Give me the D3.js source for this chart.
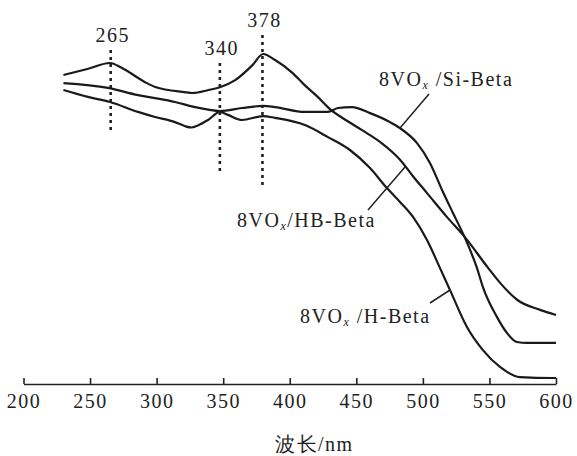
<!DOCTYPE html>
<html>
<head>
<meta charset="utf-8">
<script src="https://cdn.jsdelivr.net/npm/d3@7/dist/d3.min.js"></script>
<style>
  body { margin: 0; background: #fff; }
</style>
</head>
<body>
<svg id="chart" width="577" height="456"></svg>
<script>
// ---- data (wavelength in nm, absorbance in arbitrary units) ----
const xTicks = [200, 250, 300, 350, 400, 450, 500, 550, 600];

const hbBetaWave = [230, 248, 265, 274, 291, 299, 321, 327, 339, 348, 359, 372, 380, 389, 402, 411, 421, 430, 442, 454, 469, 483, 493, 503, 518, 532, 549, 558, 571, 588, 600];
const hbBetaAbs  = [103.0, 105.0, 107.0, 105.3, 100.7, 99.0, 97.3, 97.0, 98.0, 99.0, 101.3, 106.3, 110.0, 108.0, 103.7, 99.7, 95.7, 91.7, 88.0, 84.7, 80.3, 74.7, 69.0, 63.7, 55.7, 48.7, 38.7, 33.7, 28.0, 24.7, 23.0];

const siBetaWave = [230, 263.5, 286, 298.8, 313.8, 328.8, 347.6, 364.1, 379.9, 388.9, 411.4, 428.7, 436.2, 446.7, 460.3, 475.3, 482.8, 495.6, 505.3, 515.1, 522.6, 531.6, 540.6, 545.1, 555.7, 563.2, 570.7, 578.2, 600];
const siBetaAbs  = [100.3, 98.7, 96.3, 95.3, 94.0, 92.3, 91.0, 92.0, 92.7, 92.3, 90.7, 90.7, 92.0, 92.3, 90.3, 87.3, 85.3, 80.3, 73.7, 64.0, 57.0, 48.7, 38.7, 32.3, 22.3, 17.0, 14.0, 13.7, 13.7];

const hBetaWave = [230, 248.4, 265, 286, 298.8, 313.8, 321, 326, 331, 338.6, 347.6, 353.6, 364.1, 379.9, 388.9, 411.4, 428.7, 445.2, 460.3, 473, 482.8, 492.6, 503.1, 512.8, 520.4, 533.1, 545.1, 557.9, 572.9, 597.7, 600];
const hBetaAbs  = [98.0, 95.7, 94.0, 90.7, 89.0, 87.3, 86.0, 85.5, 86.2, 88.0, 90.7, 89.7, 88.0, 89.3, 88.7, 86.3, 82.3, 78.0, 72.0, 65.3, 60.7, 55.7, 48.0, 38.7, 31.3, 19.0, 11.3, 5.7, 2.3, 2.0, 2.0];

const peakLabels = ["265", "340", "378"];
const peakWave   = [265.5, 347.5, 379.5];

const seriesLabels = ["/HB-Beta", "/Si-Beta", "/H-Beta"];

// ---- drawing ----
const FONT = "Liberation Serif";
const FS = "20px";
const LS = "1.5px";
const svg = d3.select("#chart");
const x = d3.scaleLinear().domain([200, 600]).range([23.5, 556]);
const y = d3.scaleLinear().domain([0, 120]).range([384, 24]);

const line = d3.line()
  .x(d => x(d[0]))
  .y(d => y(d[1]))
  .curve(d3.curveMonotoneX);

const series = [
  d3.zip(hbBetaWave, hbBetaAbs),
  d3.zip(siBetaWave, siBetaAbs),
  d3.zip(hBetaWave, hBetaAbs)
];

svg.append("g").selectAll("path").data(series).join("path")
  .attr("d", line)
  .attr("fill", "none")
  .attr("stroke", "#1a1a1a")
  .attr("stroke-width", 2.2)
  .attr("stroke-linejoin", "round");

// x axis
const axis = d3.axisBottom(x).tickValues(xTicks).tickSizeInner(-6).tickSizeOuter(0).tickPadding(10);
const gAxis = svg.append("g").attr("transform", "translate(0,384)").call(axis);
gAxis.select(".domain").attr("stroke", "#222").attr("stroke-width", 1.6);
gAxis.selectAll(".tick line").attr("stroke", "#222").attr("stroke-width", 1.6);
gAxis.selectAll(".tick text")
  .style("font-family", FONT)
  .style("font-size", FS)
  .style("letter-spacing", LS)
  .attr("fill", "#222");

svg.append("text")
  .style("font-family", FONT)
  .style("font-size", FS)
  .style("letter-spacing", LS)
  .attr("fill", "#222")
  .attr("x", 275).attr("y", 451)
  .text("波长/nm");

// peak markers
const peakTop = [50, 63, 35];
const peakBottom = [132, 173, 188];
const peakTextY = [42, 55, 27];
peakWave.forEach((w, i) => {
  svg.append("line")
    .attr("x1", x(w)).attr("x2", x(w))
    .attr("y1", peakTop[i]).attr("y2", peakBottom[i])
    .attr("stroke", "#222").attr("stroke-width", 2.6)
    .attr("stroke-dasharray", "3,4");
  svg.append("text")
    .style("font-family", FONT)
    .style("font-size", FS)
    .style("letter-spacing", LS)
    .attr("fill", "#222")
    .attr("x", x(w) + 2).attr("y", peakTextY[i])
    .attr("text-anchor", "middle")
    .text(peakLabels[i]);
});

// series labels with leader lines
const labelPos = [
  { tx: 237, ty: 227, gap: "", lx1: 368, ly1: 210, lx2: 405, ly2: 167 },
  { tx: 379, ty: 86, gap: " ", lx1: 429, ly1: 94, lx2: 400, ly2: 128 },
  { tx: 300, ty: 323, gap: " ", lx1: 430, ly1: 303, lx2: 450, ly2: 290 }
];
labelPos.forEach((p, i) => {
  svg.append("line")
    .attr("x1", p.lx1).attr("y1", p.ly1).attr("x2", p.lx2).attr("y2", p.ly2)
    .attr("stroke", "#222").attr("stroke-width", 1.5);
  const t = svg.append("text")
    .style("font-family", FONT)
    .style("font-size", FS)
    .style("letter-spacing", LS)
    .attr("fill", "#222")
    .attr("x", p.tx).attr("y", p.ty);
  t.append("tspan").text("8VO");
  t.append("tspan").style("font-size", "12px").style("font-style", "italic").attr("dy", 3).text("x");
  t.append("tspan").attr("dy", -3).text(p.gap + seriesLabels[i]);
});
</script>
</body>
</html>
